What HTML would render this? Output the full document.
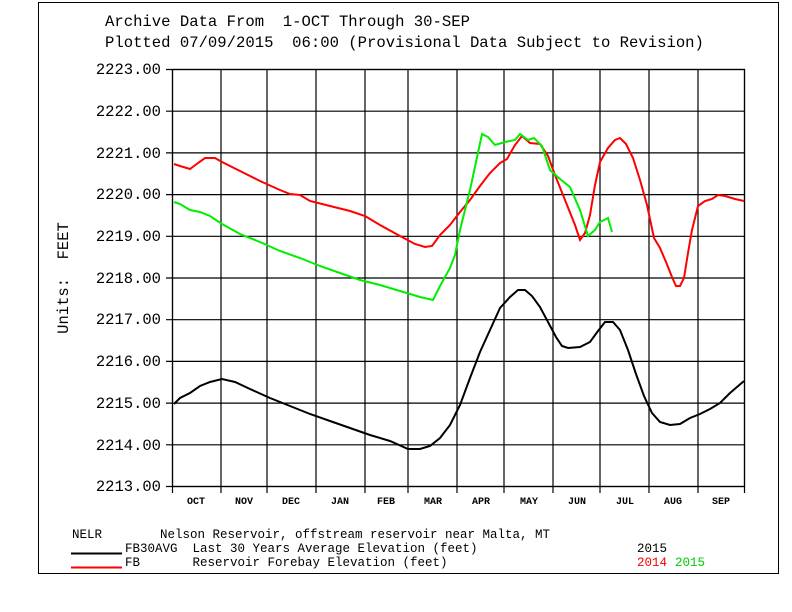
<!DOCTYPE html>
<html><head><meta charset="utf-8"><style>
body{margin:0;background:#fff}
svg{display:block}
text{font-family:"Liberation Mono",monospace;fill:#000;white-space:pre}
</style></head><body>
<svg width="792" height="612" viewBox="0 0 792 612" xml:space="preserve">
<rect x="38.5" y="2.5" width="740" height="571" fill="#fff" stroke="#000" stroke-width="1"/>
<text x="105" y="26" font-size="15.6">Archive Data From  1-OCT Through 30-SEP</text>
<text x="105" y="47" font-size="15.6">Plotted 07/09/2015  06:00 (Provisional Data Subject to Revision)</text>
<g stroke="#000" stroke-width="1.2" fill="none">
<rect x="172.5" y="69.5" width="572" height="417"/>
<path d="M166 69.5H745M166 111.2H745M166 152.9H745M166 194.6H745M166 236.3H745M166 278H745M166 319.7H745M166 361.4H745M166 403.1H745M166 444.8H745M166 486.5H745"/>
<path d="M172.5 69V493M221 69V493M267 69V493M316 69V493M365 69V493M408 69V493M457 69V493M504 69V493M553 69V493M600 69V493M649 69V493M698 69V493M744.5 69V493"/>
</g>
<g font-size="15.5" text-anchor="end">
<text x="161" y="74">2223.00</text><text x="161" y="116">2222.00</text><text x="161" y="158">2221.00</text><text x="161" y="199">2220.00</text><text x="161" y="241">2219.00</text><text x="161" y="283">2218.00</text><text x="161" y="324">2217.00</text><text x="161" y="366">2216.00</text><text x="161" y="408">2215.00</text><text x="161" y="450">2214.00</text><text x="161" y="491">2213.00</text>
</g>
<g font-size="10" text-anchor="middle" font-weight="bold">
<text x="196" y="504">OCT</text><text x="244" y="504">NOV</text><text x="291" y="504">DEC</text><text x="340" y="504">JAN</text><text x="386" y="504">FEB</text><text x="433" y="504">MAR</text><text x="481" y="504">APR</text><text x="529" y="504">MAY</text><text x="577" y="504">JUN</text><text x="625" y="504">JUL</text><text x="673" y="504">AUG</text><text x="721" y="504">SEP</text>
</g>
<text transform="translate(68,278) rotate(-90)" font-size="15.5" text-anchor="middle">Units:  FEET</text>
<polyline fill="none" stroke="#000" stroke-width="2" points="174,404 180,398 190,393 200,386 210,382 222,379 235,382 250,389 270,398 290,406 310,414 330,421 350,428 370,435 390,441 408,449 420,449 430,446 440,438 450,425 460,405 470,378 480,352 490,330 500,308 510,297 518,290 525,290 532,296 540,307 548,322 556,337 562,346 568,348 580,347 590,342 598,331 605,322 613,322 620,330 628,350 636,374 644,396 652,413 660,422 670,425 680,424 690,418 700,414 710,409 720,403 730,393 744,381"/>
<polyline fill="none" stroke="#f00" stroke-width="2" points="174,164 180,166 190,169 198,163 205,158 215,158 222,162 240,171 260,181 280,190 290,194 300,195 310,201 330,206 350,211 365,216 380,225 400,236 415,244 425,247 432,246 440,235 450,225 460,212 470,200 480,186 490,173 500,163 507,159 515,145 522,136 530,143 540,144 548,156 555,175 565,200 575,225 580,240 585,233 590,215 595,185 600,162 608,148 615,140 620,138 626,144 633,158 640,180 647,205 654,238 660,248 666,262 672,277 676,286 680,286 684,278 688,253 692,230 698,206 705,201 712,199 718,195 725,196 735,199 744,201"/>
<polyline fill="none" stroke="#0e0" stroke-width="2" points="174,202 180,204 190,210 200,212 210,216 222,224 240,234 260,242 280,251 300,258 320,266 340,273 360,280 380,285 400,291 420,297 433,300 440,286 450,268 455,255 460,230 470,190 476,162 482,134 488,137 495,145 505,142 515,140 520,134 528,140 534,138 542,146 550,170 560,179 570,187 580,210 588,236 595,230 600,222 608,218 612,232"/>
<g font-size="12.5">
<text x="72" y="538">NELR</text>
<text x="160" y="538">Nelson Reservoir, offstream reservoir near Malta, MT</text>
<text x="125" y="552">FB30AVG  Last 30 Years Average Elevation (feet)</text>
<text x="125" y="566">FB       Reservoir Forebay Elevation (feet)</text>
<text x="637" y="552">2015</text>
<text x="637" y="566" style="fill:#f00">2014</text><text x="675" y="566" style="fill:#0c0">2015</text>
</g>
<line x1="71" y1="553.5" x2="122" y2="553.5" stroke="#000" stroke-width="2"/>
<line x1="71" y1="567.5" x2="122" y2="567.5" stroke="#f00" stroke-width="2"/>
</svg>
</body></html>
